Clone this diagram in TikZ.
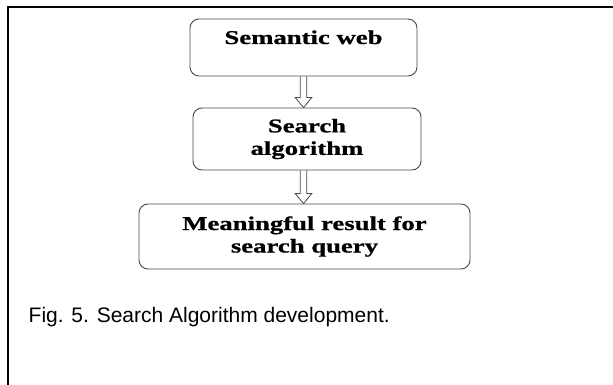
\documentclass[tikz,border=0pt]{standalone}
\usepackage{fontspec}
\usepackage{tikz}
\usetikzlibrary{calc,positioning}
\newfontfamily\boxfont[FakeStretch=1.37,FakeBold=0.8]{Liberation Serif}
\newfontfamily\capfont{Liberation Sans}
\definecolor{boxline}{HTML}{4A4A4A}

\begin{document}
\begin{tikzpicture}[
    x=1pt, y=1pt,
    stepbox/.style={draw=boxline, line width=0.9pt, rounded corners=9pt, align=center,
                    inner sep=0pt, font=\boxfont\bfseries\fontsize{19.5}{22.5}\selectfont},
    hollowarrow/.style={draw=boxline, line width=0.8pt, line join=miter},
    frameline/.style={black, line width=2pt}
]
\useasboundingbox (0,0) rectangle (613,-385);

% Frame (left and top only)
\draw[frameline] (8.3,-385) -- (8.3,-7) -- (613,-7);

% Flow boxes
\node[stepbox, minimum width=227pt, text height=25pt, text depth=32pt] (sem) at (303.5,-47.5) {Semantic web};
\node[stepbox, minimum width=228pt, minimum height=62pt] (alg) at (307,-139) {Search\\algorithm};
\node[stepbox, minimum width=331pt, minimum height=65pt] (res) at (304.5,-236.5) {Meaningful result for\\search query};

% Hollow arrows between boxes
\foreach \a/\b in {sem/alg,alg/res} {
  \coordinate (\a-out) at (sem.south |- \a.south);
  \coordinate (\b-in) at (sem.south |- \b.north);
  \draw[hollowarrow] ([xshift=-3.3pt]\a-out) -- ([xshift=-3.3pt,yshift=10pt]\b-in) -- ++(-5,0)
    -- (\b-in) -- ++(8.3,10) -- ++(-5,0) -- ([xshift=3.3pt]\a-out);
}

% Caption
\node[anchor=base west, inner sep=0pt, font=\capfont\fontsize{21}{25}\selectfont] (caption) at (28.5,-322.3)
  {Fig. 5. Search Algorithm development.};

\end{tikzpicture}
\end{document}
